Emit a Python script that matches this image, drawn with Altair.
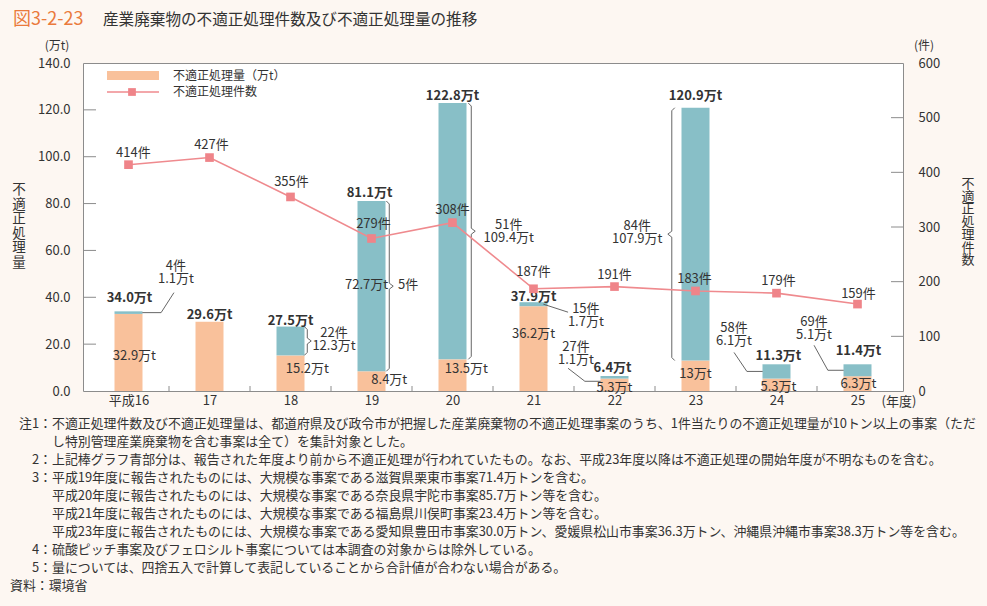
import altair as alt
import pandas as pd

# ---------------- data ----------------
years = ["平成16", "17", "18", "19", "20", "21", "22", "23", "24", "25"]
current_amount = [32.9, 29.6, 15.2, 8.4, 13.5, 36.2, 5.3, 13.0, 5.3, 6.3]     # 万t, reported-year part
prior_amount = [1.1, 0.0, 12.3, 72.7, 109.4, 1.7, 1.1, 107.9, 6.1, 5.1]       # 万t, earlier-start part
total_amount = [34.0, 29.6, 27.5, 81.1, 122.8, 37.9, 6.4, 120.9, 11.3, 11.4]
case_count = [414, 427, 355, 279, 308, 187, 191, 183, 179, 159]               # 件
prior_count = [4, None, 22, 5, 51, 15, 27, 84, 58, 69]
current_text = ["32.9万t", None, "15.2万t", "8.4万t", "13.5万t", "36.2万t", "5.3万t", "13万t", "5.3万t", "6.3万t"]
amount_ticks = [0, 20, 40, 60, 80, 100, 120, 140]
count_ticks = [0, 100, 200, 300, 400, 500, 600]

notes = [
    ("注1：", "不適正処理件数及び不適正処理量は、都道府県及び政令市が把握した産業廃棄物の不適正処理事案のうち、1件当たりの不適正処理量が10トン以上の事案（ただ"),
    ("", "し特別管理産業廃棄物を含む事案は全て）を集計対象とした。"),
    ("2：", "上記棒グラフ青部分は、報告された年度より前から不適正処理が行われていたもの。なお、平成23年度以降は不適正処理の開始年度が不明なものを含む。"),
    ("3：", "平成19年度に報告されたものには、大規模な事案である滋賀県栗東市事案71.4万トンを含む。"),
    ("", "平成20年度に報告されたものには、大規模な事案である奈良県宇陀市事案85.7万トン等を含む。"),
    ("", "平成21年度に報告されたものには、大規模な事案である福島県川俣町事案23.4万トン等を含む。"),
    ("", "平成23年度に報告されたものには、大規模な事案である愛知県豊田市事案30.0万トン、愛媛県松山市事案36.3万トン、沖縄県沖縄市事案38.3万トン等を含む。"),
    ("4：", "硫酸ピッチ事案及びフェロシルト事案については本調査の対象からは除外している。"),
    ("5：", "量については、四捨五入で計算して表記していることから合計値が合わない場合がある。"),
]

# ---------------- style ----------------
FONT = "Noto Sans CJK JP"
BG = "#fdf7f2"
ORANGE = "#f9c19b"
TEAL = "#88bfc7"
LINE = "#ef8a8e"
MARKER = "#ef8489"
GRAY = "#8c8c8c"
TEXT = "#333333"
DARK = "#555555"
TITLE_ORANGE = "#ea7a3c"

PAD_L, PAD_T, PAD_R, PAD_B = 83, 63, 84, 215
W, H = 820, 328
YMAX, CMAX = 140, 600
PXU = H / YMAX
BAND = W / len(years)
n = len(years)
LH = 13  # line height of two-line labels

xs = alt.Scale(domain=[-0.5, n - 0.5], nice=False, zero=False)
ys = alt.Scale(domain=[0, YMAX], nice=False)
cs = alt.Scale(domain=[0, CMAX], nice=False)

label_expr = "[" + ",".join("'%s'" % y for y in years) + "][datum.value]"

x_axis = alt.Axis(values=list(range(n)), labelExpr=label_expr, ticks=False, domain=False,
                  grid=False, labelPadding=3, labelFontSize=13, labelColor=TEXT, labelFont=FONT,
                  title=None, labelAngle=0, labelOverlap=False, labelFlush=False)
left_axis = alt.Axis(values=amount_ticks, format=".1f", ticks=False, domain=False, grid=False,
                     labelPadding=13, labelFontSize=13, labelColor=TEXT, labelFont=FONT, title=None,
                     orient="left", labelFlush=False, labelOverlap=False)
right_axis = alt.Axis(values=count_ticks, format="d", ticks=False, domain=False, grid=False,
                      labelPadding=15, labelFontSize=13, labelColor=TEXT, labelFont=FONT, title=None,
                      orient="right", labelFlush=False, labelOverlap=False)

def XQ(field):
    return alt.X(field, type="quantitative", scale=xs, axis=x_axis)

def YA(field):
    return alt.Y(field, type="quantitative", scale=ys, axis=left_axis)

def YC(field):
    return alt.Y(field, type="quantitative", scale=cs, axis=right_axis)

def shift(i, yv, dxp, dyp):
    """anchor (category i, amount yv) shifted by pixels"""
    return i + dxp / BAND, yv - dyp / PXU

# ---------------- bars ----------------
bar_rows = []
for i in range(n):
    bar_rows.append({"i": i, "seg": "cur", "y0": 0.0, "y1": current_amount[i]})
    if prior_amount[i] > 0:
        bar_rows.append({"i": i, "seg": "prior", "y0": current_amount[i],
                         "y1": current_amount[i] + prior_amount[i]})
bars = alt.Chart(pd.DataFrame(bar_rows)).mark_bar(size=28).encode(
    x=XQ("i"), y=YA("y1"), y2="y0:Q",
    color=alt.Color("seg:N", scale=alt.Scale(domain=["cur", "prior"], range=[ORANGE, TEAL]), legend=None),
)

left_ticks = alt.Chart(pd.DataFrame({"v": amount_ticks[1:-1]})).mark_rule(color=GRAY).encode(
    y=YA("v"), x=alt.value(0), x2=alt.value(13))
bottom_ticks = alt.Chart(pd.DataFrame({"b": [k + 0.5 for k in range(n - 1)]})).mark_rule(color=GRAY).encode(
    x=XQ("b"), y=alt.value(H), y2=alt.value(H - 5))

# total labels (bold)
total_off = [(1, -13), (0, -7), (0, -6), (-2, -8), (0, -7), (0, -5), (-2, -8), (0, -12), (2, -9), (1, -13)]
rows = []
for i in range(n):
    x, y = shift(i, total_amount[i], *total_off[i])
    rows.append({"x": x, "y": y, "t": "%.1f万t" % total_amount[i]})
total_labels = alt.Chart(pd.DataFrame(rows)).mark_text(
    font=FONT, fontSize=13, fontWeight="bold", color=TEXT, baseline="middle").encode(
    x=XQ("x"), y=YA("y"), text="t:N")

# current-part labels
cur_off = [(6, 4), None, (17, -4), (18, -1), (14, -6), (0, -15), (0, 3), (0, -2), (2, 2), (1, 0)]
rows = []
for i in range(n):
    if current_text[i] is None:
        continue
    x, y = shift(i, current_amount[i] / 2, *cur_off[i])
    rows.append({"x": x, "y": y, "t": current_text[i]})
cur_labels = alt.Chart(pd.DataFrame(rows)).mark_text(
    font=FONT, fontSize=13, color=TEXT, baseline="middle").encode(x=XQ("x"), y=YA("y"), text="t:N")

# prior-part labels (count + amount); offsets are to the centre of the label block
prior_off = [(48, -40), None, (44, -1), (37, -1), (57, 0), (53, 11), (-39, -24), (-59, -2), (-43, -37), (-44, -42)]
rows = []
for i in range(n):
    if prior_count[i] is None:
        continue
    mid = current_amount[i] + prior_amount[i] / 2
    dxp, dyp = prior_off[i]
    if i == 3:
        x, y = shift(i, mid, dxp, dyp)
        rows.append({"x": x, "y": y, "t": "%d件" % prior_count[i]})
        x2, y2 = shift(i, mid, -5, -1)
        rows.append({"x": x2, "y": y2, "t": "%.1f万t" % prior_amount[i]})
    else:
        x, y = shift(i, mid, dxp, dyp - LH / 2)
        rows.append({"x": x, "y": y, "t": "%d件\n%.1f万t" % (prior_count[i], prior_amount[i])})
prior_labels = alt.Chart(pd.DataFrame(rows)).mark_text(
    font=FONT, fontSize=13, color=TEXT, baseline="middle", lineBreak="\n", lineHeight=LH).encode(
    x=XQ("x"), y=YA("y"), text="t:N")

# leader lines and braces
path_rows = []
leaders = {0: [(14, 0), (33, 0), (46, -20)],
           5: [(10, 0), (35, 8)],
           6: [(-47, -9), (-30, 4), (-14, 4)],
           8: [(-43, -19), (-30, 0), (-14, 0)],
           9: [(-44, -25), (-30, 0), (-14, 0)]}
g = 0
for i, pts in leaders.items():
    mid = current_amount[i] + prior_amount[i] / 2
    for k, (dxp, dyp) in enumerate(pts):
        x, y = shift(i, mid, dxp, dyp)
        path_rows.append({"g": g, "o": k, "x": x, "y": y})
    g += 1
braces = {2: (1, 3), 3: (1, 4), 4: (1, 5), 7: (-1, 10)}
for i, (side, gap) in braces.items():
    b = current_amount[i]
    t = current_amount[i] + prior_amount[i]
    m = (b + t) / 2
    e = side * (14 + gap)
    h = 3
    pts = [(e - side * 3, b, 0), (e, b, -h), (e, m, h), (e + side * 4, m, 0), (e, m, -h), (e, t, h), (e - side * 3, t, 0)]
    for k, (dxp, yv, dyp) in enumerate(pts):
        x, y = shift(i, yv, dxp, dyp)
        path_rows.append({"g": g, "o": k, "x": x, "y": y})
    g += 1
paths = alt.Chart(pd.DataFrame(path_rows)).mark_line(color=DARK, strokeWidth=0.9).encode(
    x=XQ("x"), y=YA("y"), detail="g:N", order="o:Q")

left_group = alt.layer(bars, left_ticks, bottom_ticks, paths, cur_labels, total_labels, prior_labels)

# ---------------- count line ----------------
df_cnt = pd.DataFrame({"i": list(range(n)), "c": case_count})
line = alt.Chart(df_cnt).mark_line(color=LINE, strokeWidth=1.6).encode(x=XQ("i"), y=YC("c"))
points = alt.Chart(df_cnt).mark_point(shape="square", filled=True, size=75, color=MARKER, opacity=1).encode(
    x=XQ("i"), y=YC("c"))
right_ticks = alt.Chart(pd.DataFrame({"v": count_ticks[1:-1]})).mark_rule(color=GRAY).encode(
    y=YC("v"), x=alt.value(W - 12), x2=alt.value(W))
cnt_off = [(5, -12), (2, -13), (1, -15), (2, -14), (0, -13), (0, -17), (0, -12), (-1, -12), (2, -12), (1, -10)]
cnt_label_layers = []
for i in range(n):
    r = {"x": i + cnt_off[i][0] / BAND, "c": case_count[i], "t": "%d件" % case_count[i]}
    cnt_label_layers.append(
        alt.Chart(pd.DataFrame([r])).mark_text(font=FONT, fontSize=13, color=TEXT, baseline="middle",
                                               dy=cnt_off[i][1])
        .encode(x=XQ("x"), y=YC("c"), text="t:N"))
right_group = alt.layer(line, points, right_ticks, *cnt_label_layers)

# ---------------- fixed texts / legend ----------------
DUMMY = pd.DataFrame({"a": [0]})

def txt(x, y, s, size=12.5, align="left", color=TEXT, weight="normal", line_height=None):
    kw = dict(align=align, baseline="middle", fontSize=size, font=FONT, color=color, fontWeight=weight,
              lineBreak="\n")
    if line_height is not None:
        kw["lineHeight"] = line_height
    return alt.Chart(DUMMY).mark_text(**kw).encode(
        x=alt.value(x - PAD_L), y=alt.value(y - PAD_T), text=alt.value(s))

fixed = [
    txt(13, 20, "図3-2-23", size=18, color=TITLE_ORANGE),
    txt(103, 20, "産業廃棄物の不適正処理件数及び不適正処理量の推移", size=15.6),
    txt(57, 46, "(万t)", size=12, align="center"),
    txt(924, 46, "(件)", size=12, align="center"),
    txt(19, 190, "\n".join("不適正処理量"), size=13.5, align="center", line_height=14.6),
    txt(968, 184, "\n".join("不適正処理件数"), size=13, align="center", line_height=12.7),
    txt(899, 402, "(年度)", size=13, align="center"),
    txt(173, 76, "不適正処理量（万t）", size=12),
    txt(173, 92, "不適正処理件数", size=12),
]
legend_rect = alt.Chart(DUMMY).mark_rect(color=ORANGE).encode(
    x=alt.value(107 - PAD_L), x2=alt.value(159 - PAD_L), y=alt.value(71 - PAD_T), y2=alt.value(80 - PAD_T))
legend_line = alt.Chart(DUMMY).mark_rule(color=LINE, strokeWidth=1.6).encode(
    x=alt.value(107 - PAD_L), x2=alt.value(159 - PAD_L), y=alt.value(92 - PAD_T))
legend_pt = alt.Chart(DUMMY).mark_point(shape="square", filled=True, size=60, color=MARKER, opacity=1).encode(
    x=alt.value(132 - PAD_L), y=alt.value(92 - PAD_T))

note_layers = []
y0 = 424
NS = 12.9
for k, (pre, body) in enumerate(notes):
    yy = y0 + 18 * k
    if pre:
        note_layers.append(txt(52, yy, pre, size=NS, align="right"))
    note_layers.append(txt(52, yy, body, size=NS))
note_layers.append(txt(10, y0 + 18 * len(notes), "資料：環境省", size=NS))

fixed_group = alt.layer(legend_rect, legend_line, legend_pt, *fixed, *note_layers)

chart = alt.layer(left_group, right_group, fixed_group).resolve_scale(y="independent").properties(
    width=W, height=H,
    padding={"left": PAD_L, "top": PAD_T, "right": PAD_R, "bottom": PAD_B},
    autosize=alt.AutoSizeParams(type="none"),
    background=BG,
).configure_view(fill="white", stroke=GRAY, strokeWidth=1)

chart.save("out.html", embed_options={"renderer": "svg", "actions": False})
